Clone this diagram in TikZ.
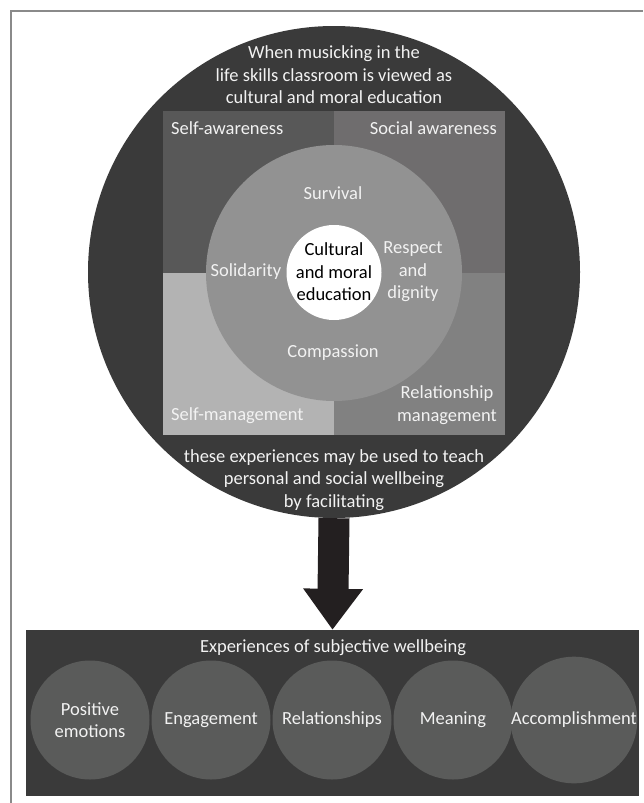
\documentclass[tikz,border=0pt]{standalone}
\usepackage{fontspec}
\setmainfont{Carlito}
\usetikzlibrary{arrows.meta}
\definecolor{outerc}{HTML}{3A3A3A}
\definecolor{saw}{HTML}{585858}
\definecolor{soc}{HTML}{6F6D6E}
\definecolor{sman}{HTML}{B3B3B3}
\definecolor{rman}{HTML}{818181}
\definecolor{midc}{HTML}{929292}
\definecolor{smallc}{HTML}{5A5B5A}
\definecolor{arrowc}{HTML}{231F20}
\definecolor{framec}{HTML}{8A8A8A}
\definecolor{txt}{HTML}{F2F2F2}
\begin{document}
\begin{tikzpicture}[x=1pt,y=-1pt,
  lbl/.style={text=txt, inner sep=0pt, align=center, font=\fontsize{18.5}{22.5}\selectfont},
  disc/.style={circle, inner sep=0pt, minimum size=#1},
  wb/.style={disc=119pt, fill=smallc, text=txt, align=center, font=\fontsize{18.5}{21.5}\selectfont}]
\useasboundingbox (0,0) rectangle (643,803);
\draw[framec, line width=1.3pt] (11,803) -- (11,11) -- (643,11);
% big circle
\node[disc=492pt, fill=outerc] (big) at (334,272) {};
% quadrants
\fill[saw]  (163,111) rectangle (334,273);
\fill[soc]  (334,111) rectangle (505,273);
\fill[sman] (163,273) rectangle (334,435);
\fill[rman] (334,273) rectangle (505,435);
% inner circles
\node[disc=256pt, fill=midc] (mid) at (334,273) {};
\node[disc=95pt, fill=white] (core) at (334,272.5) {};
% texts
\node[lbl] (top) at (334,75) {When musicking in the\\life skills classroom is viewed as\\cultural and moral education};
\node[lbl, anchor=west] (sa) at (171,128) {Self-awareness};
\node[lbl, anchor=east] (soa) at (497,128) {Social awareness};
\node[lbl, anchor=west] (sm) at (171,416) {Self-management};
\node[lbl] (rm) at (447,405) {Relationship\\management};
\node[lbl] (surv) at (333,193) {Survival};
\node[lbl] (sol) at (246,272) {Solidarity};
\node[lbl] (resp) at (413,272) {Respect\\and\\dignity};
\node[lbl] (comp) at (333,353) {Compassion};
\node[lbl, text=black] (cme) at (334,272) {Cultural\\and moral\\education};
\node[lbl] (bot) at (334,480) {these experiences may be used to teach\\personal and social wellbeing\\by facilitating};
% bottom box
\node[rectangle, fill=outerc, minimum width=613pt, minimum height=166pt, inner sep=0pt] (box) at (332.5,713) {};
\node[lbl] (exp) at (333,648) {Experiences of subjective wellbeing};
\node[wb] (pe) at (90,720) {Positive\\emotions};
\node[wb] (en) at (211,720) {Engagement};
\node[wb] (re) at (332,720) {Relationships};
\node[wb] (me) at (453,720) {Meaning};
\node[wb] (ac) at (574,720) {Accomplishment};
% arrow
\draw[arrowc, line width=31pt, -{Triangle[width=57pt,length=41pt]}] (big.south) -- (box.north);
\end{tikzpicture}
\end{document}
